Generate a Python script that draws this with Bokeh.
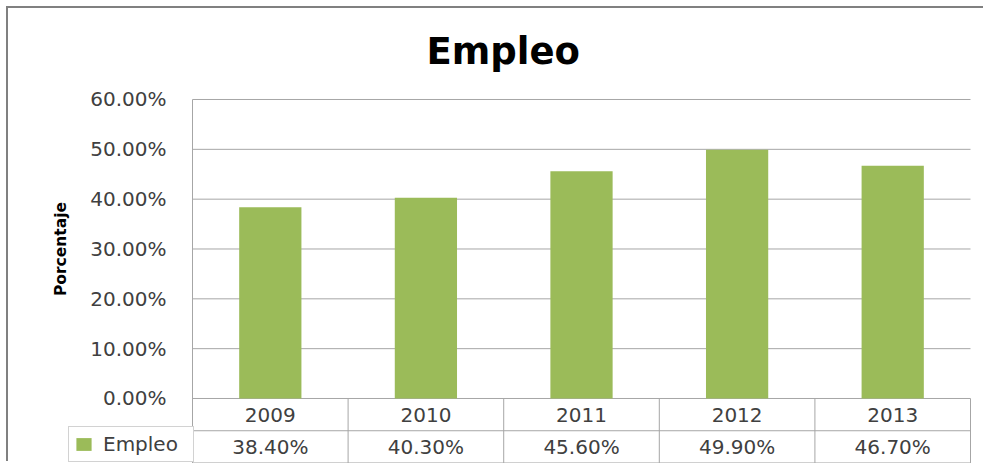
import math
from bokeh.plotting import figure
from bokeh.models import Range1d, ColumnDataSource, Legend, LegendItem, GlobalInlineStyleSheet
from bokeh.core.properties import value
from bokeh.embed import file_html
from bokeh.resources import INLINE

# ---- data ----
years = ["2009", "2010", "2011", "2012", "2013"]
empleo = [38.40, 40.30, 45.60, 49.90, 46.70]          # percent
y_ticks = [0, 10, 20, 30, 40, 50, 60]                 # percent
title_text = "Empleo"
series_name = "Empleo"
y_label = "Porcentaje"

# ---- styles ----
GREEN = "#9BBB59"
GRID = "#A6A6A6"
TEXT = "#404040"
FONT = "DejaVu Sans"
FS = "20px"

n = len(years)
xs = list(range(n))
tops = [v / 100 for v in empleo]
ymax = max(y_ticks) / 100
ROW_H = 0.0647          # height of one data-table row (y units)
LEFT_EDGE = -0.5        # left edge of the plot area (x units)
RIGHT_EDGE = n - 0.5

src = ColumnDataSource(dict(x=xs, top=tops, year=years,
                            label=[f"{v:.2f}%" for v in empleo]))
tick_src = ColumnDataSource(dict(y=[t / 100 for t in y_ticks],
                                 label=[f"{t:.2f}%" for t in y_ticks]))

p = figure(width=977, height=455,
           x_range=Range1d(LEFT_EDGE - 0.9769, RIGHT_EDGE + 0.0128),
           y_range=Range1d(-0.13044, ymax + 0.02809),
           output_backend="svg", toolbar_location=None,
           x_axis_location=None, y_axis_location=None,
           min_border_left=32, min_border_right=13, min_border_top=77, min_border_bottom=0,
           outline_line_color=None, background_fill_color="white", border_fill_color="white")
p.grid.visible = False

# thin grey chart-area border on the left and top (as in the reference crop)
p.styles = {"margin-left": "8px", "margin-top": "8px", "vertical-align": "top",
            "box-shadow": "-2px -2px 0px 0px #808080"}
p.stylesheets = [GlobalInlineStyleSheet(css="html, body { overflow: hidden; }")]

# title
p.title.text = title_text
p.title.text_font = FONT
p.title.text_font_size = "37px"
p.title.text_font_style = "bold"
p.title.text_color = "black"
p.title.align = "left"
p.title.offset = 386
p.title.standoff = 26

# horizontal gridlines
p.segment(x0=LEFT_EDGE, x1=RIGHT_EDGE, y0="y", y1="y", source=tick_src,
          line_color=GRID, line_width=1)
# y tick labels
p.text(x=LEFT_EDGE - 0.167, y="y", text="label", source=tick_src,
       text_align="right", text_baseline="middle",
       text_font=value(FONT), text_font_size=FS, text_color=TEXT)
# y axis title
p.text(x=[LEFT_EDGE - 0.842], y=[ymax / 2], text=[y_label], angle=math.pi / 2,
       text_align="center", text_baseline="middle",
       text_font=value(FONT), text_font_size="15.5px", text_font_style="bold",
       text_color="black")

# bars
bars = p.vbar(x="x", top="top", width=0.4, source=src, fill_color=GREEN, line_color=None)

# data table lines
p.segment(x0=[LEFT_EDGE] * 2, x1=[RIGHT_EDGE] * 2,
          y0=[-ROW_H, -2 * ROW_H], y1=[-ROW_H, -2 * ROW_H],
          line_color=GRID, line_width=1)
bounds = [i - 0.5 for i in range(n + 1)]
p.segment(x0=bounds, x1=bounds,
          y0=[-2 * ROW_H] * len(bounds),
          y1=[ymax] + [0] * (len(bounds) - 1),
          line_color=GRID, line_width=1)

# data table texts
p.text(x="x", y=-ROW_H / 2, text="year", source=src, text_align="center",
       text_baseline="middle", text_font=value(FONT), text_font_size=FS, text_color=TEXT)
p.text(x="x", y=-1.5 * ROW_H, text="label", source=src, text_align="center",
       text_baseline="middle", text_font=value(FONT), text_font_size=FS, text_color=TEXT)

# legend key cell of the data table
legend = Legend(items=[LegendItem(label=series_name, renderers=[bars])],
                location=(28, 1), orientation="vertical",
                border_line_color=GRID, border_line_width=1,
                background_fill_color="white", background_fill_alpha=1,
                padding=5, margin=0, spacing=0,
                glyph_width=19, glyph_height=16, label_standoff=10,
                label_width=85, label_height=21,
                label_text_font=FONT, label_text_font_size=FS, label_text_color=TEXT)
p.add_layout(legend)

open("out.html", "w").write(file_html(p, INLINE))
